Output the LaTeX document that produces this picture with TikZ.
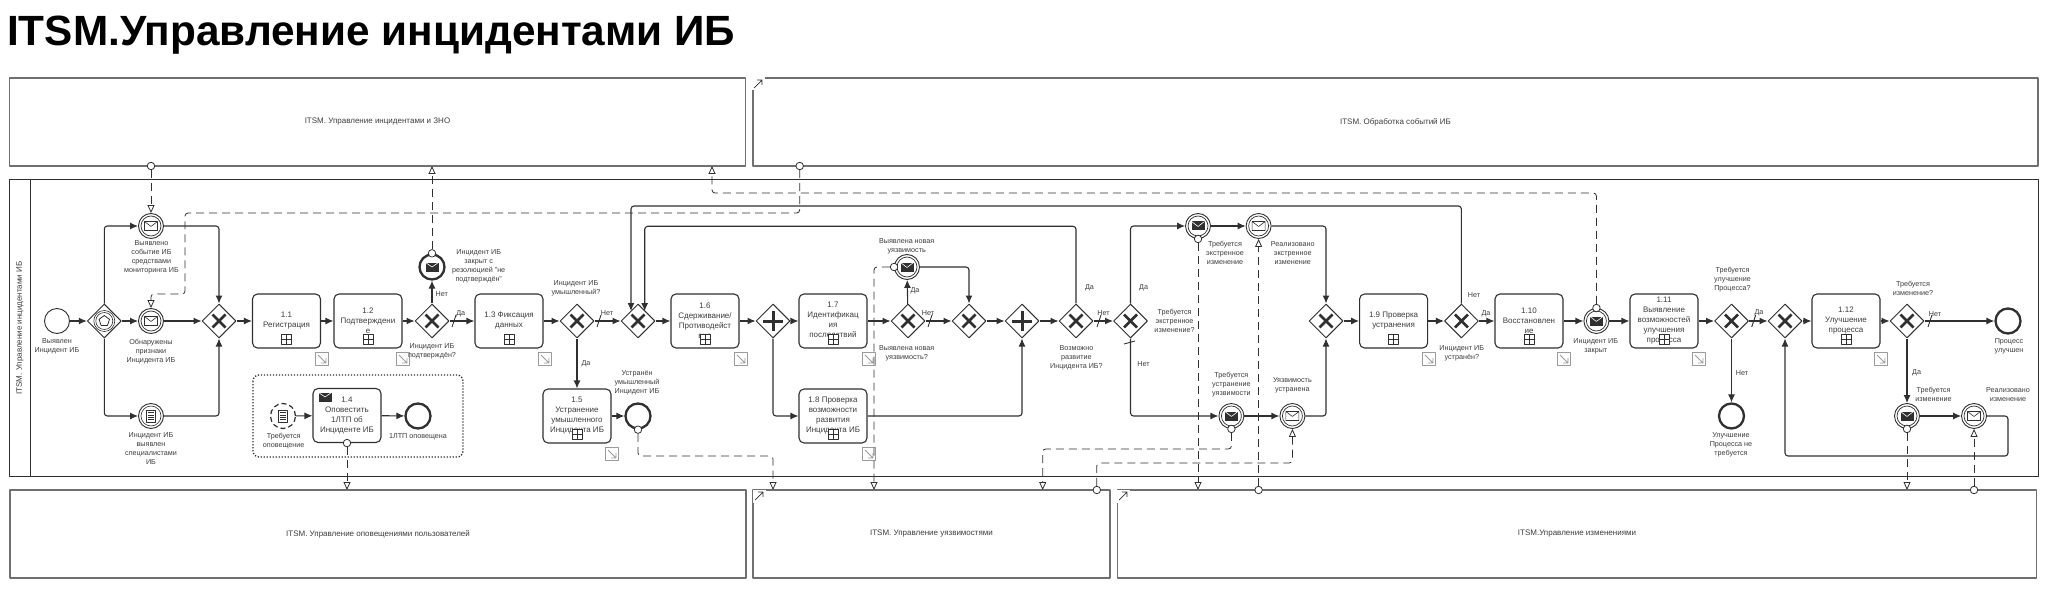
\documentclass[tikz,border=0pt]{standalone}
\usepackage{fontspec}
\setmainfont{Liberation Sans}
\usetikzlibrary{positioning,arrows.meta,shapes.geometric}
\definecolor{ln}{HTML}{303030}
\definecolor{txt}{HTML}{3C3C3C}
\definecolor{boxln}{HTML}{707070}

\begin{document}
\begin{tikzpicture}[x=1pt, y=-1pt, line join=round, draw=ln,
                    flow/.style={line width=1.1pt, rounded corners=3pt, -{Latex[length=8pt,width=7pt]}},
                    mflow/.style={line width=0.8pt, rounded corners=3pt, dash pattern=on 8pt off 5pt},
                    mtip/.style={mflow, -{Triangle[fill=white,length=8pt,width=7pt]}},
                    mdot/.style={circle, draw, fill=white, line width=0.8pt, minimum size=7.5pt, inner sep=0pt},
                    tick/.style={line width=0.9pt},
                    procbox/.style={rectangle, draw=boxln, line width=1.1pt, minimum height=88pt, inner sep=0pt,
                                    text=txt, font=\fontsize{8}{10}\selectfont},
                    task/.style={rectangle, draw, rounded corners=5pt, line width=1.1pt, minimum width=68pt,
                                 minimum height=54pt, inner sep=0pt, align=center, text=txt,
                                 font=\fontsize{8}{10}\selectfont},
                    plusbox/.style={rectangle, draw, fill=white, line width=0.7pt, minimum size=10pt, inner sep=0pt,
                                    path picture={\draw[line width=0.7pt] (path picture bounding box.north) -- (path picture bounding box.south)
                                                  (path picture bounding box.west) -- (path picture bounding box.east);}},
                    linkbox/.style={rectangle, draw=boxln!70, fill=white, line width=0.8pt, minimum size=13pt, inner sep=0pt,
                                    path picture={\draw[line width=0.8pt, shift={(path picture bounding box.center)}] (-4,-4) -- (4,4) (4,-1) -- (4,4) -- (-1,4);}},
                    uplink/.style={rectangle, fill=white, minimum size=13pt, inner sep=0pt,
                                   path picture={\draw[line width=0.7pt, shift={(path picture bounding box.center)}] (-4,4) -- (4,-4) (-1,-4) -- (4,-4) -- (4,1);}},
                    envblack/.style={rectangle, fill=ln, minimum width=13pt, minimum height=9pt, inner sep=0pt,
                                     path picture={\draw[white, line width=0.6pt] (path picture bounding box.north west) -- (path picture bounding box.center) -- (path picture bounding box.north east);}},
                    lab/.style={inner sep=0pt, align=center, text=txt, font=\fontsize{7.2}{9}\selectfont},
                    gw/.style={diamond, draw, fill=white, aspect=1, minimum size=34pt, inner sep=0pt, line width=1pt},
                    gwx/.style={gw, path picture={\draw[line width=2.7pt, shift={(path picture bounding box.center)}] (-6.5,-6.5) -- (6.5,6.5) (-6.5,6.5) -- (6.5,-6.5);}},
                    gwplus/.style={gw, path picture={\draw[line width=3pt, shift={(path picture bounding box.center)}] (-10,0) -- (10,0) (0,-10) -- (0,10);}},
                    gwevent/.style={gw, path picture={\begin{scope}[line width=0.6pt, shift={(path picture bounding box.center)}]
                                      \draw (0,0) circle (10.5); \draw (0,0) circle (8.5);
                                      \draw[line width=0.8pt] (0,-5.5) -- (5.2,-1.7) -- (3.2,4.4) -- (-3.2,4.4) -- (-5.2,-1.7) -- cycle;
                                    \end{scope}}},
                    ev/.style={circle, draw, fill=white, minimum size=25pt, inner sep=0pt, line width=0.9pt},
                    evend/.style={ev, line width=2.3pt},
                    evcatch/.style={ev, path picture={\begin{scope}[shift={(path picture bounding box.center)}]
                                      \draw[line width=0.7pt] (0,0) circle (10);
                                      \draw[line width=0.6pt] (-6.5,-4.5) rectangle (6.5,4.5) (-6.5,-4.5) -- (0,0.5) -- (6.5,-4.5);
                                    \end{scope}}},
                    evthrow/.style={ev, path picture={\begin{scope}[shift={(path picture bounding box.center)}]
                                      \draw[line width=0.7pt] (0,0) circle (10);
                                      \fill[ln] (-6.5,-4.5) rectangle (6.5,4.5);
                                      \draw[white, line width=0.6pt] (-6.5,-4.5) -- (0,0.5) -- (6.5,-4.5);
                                    \end{scope}}},
                    evlist/.style={ev, path picture={\begin{scope}[line width=0.6pt, shift={(path picture bounding box.center)}]
                                      \draw (0,0) circle (10);
                                      \draw (-4.5,-6) rectangle (4.5,6);
                                      \foreach \ly in {-3.6,-1.2,1.2,3.6} \draw (-3,\ly) -- (3,\ly);
                                    \end{scope}}},
                    evnote/.style={ev, line width=1.2pt, dash pattern=on 5pt off 3pt,
                                   path picture={\begin{scope}[solid, line width=0.6pt, shift={(path picture bounding box.center)}]
                                      \draw (-4.5,-6) rectangle (4.5,6);
                                      \foreach \ly in {-3.6,-1.2,1.2,3.6} \draw (-3,\ly) -- (3,\ly);
                                    \end{scope}}}]
  \useasboundingbox (0,0) rectangle (2048,596);
  \node[anchor=base west, inner sep=0pt, font=\fontsize{42.3}{42}\selectfont\bfseries, text=black] (title) at (7,46) {ITSM.Управление инцидентами ИБ};
  % boxes
  \node[procbox, minimum width=736pt] (pzno) at (377.5,122) {ITSM. Управление инцидентами и ЗНО};
  \node[procbox, minimum width=1285pt] (pevt) at (1395.5,122) {ITSM. Обработка событий ИБ};
  \node[procbox, minimum width=736pt] (pnotif) at (378,534) {ITSM. Управление оповещениями пользователей};
  \node[procbox, minimum width=357pt] (pvuln) at (931.5,534) {ITSM. Управление уязвимостями};
  \node[procbox, minimum width=919pt] (pchg) at (1577,534) {ITSM.Управление изменениями};
  \foreach \nm/\xx/\yy in {upa/758/84, upb/759/496, upc/1123/496} \node[uplink] (\nm) at (\xx,\yy) {};
  \draw[line width=0.9pt] (9,179) rectangle (2038,476.5);
  \draw[line width=0.9pt] (30,179) -- (30,476.5);
  \node[rotate=90, inner sep=0pt, text=txt, font=\fontsize{8}{10}\selectfont] (lane) at (20,328) {ITSM. Управление инцидентами ИБ};
  \draw[line width=1.3pt, dash pattern=on 1.3pt off 1.7pt, rounded corners=6pt] (253,375) rectangle (463,457);
  % tasks
  \foreach \nm/\xx/\yy/\tx in {t11/286.5/321/{1.1\\Регистрация}, t12/368/321/{1.2\\Подтверждени\\е},
                               t13/509/321/{1.3 Фиксация\\данных}, t14/347/415.5/{1.4\\Оповестить\\1ЛТП об\\Инциденте ИБ},
                               t15/577/416/{1.5\\Устранение\\умышленного\\Инцидента ИБ}, t16/705/321/{1.6\\Сдерживание/\\Противодейст\\вие},
                               t17/833/321/{1.7\\Идентификац\\ия\\последствий}, t18/833/416/{1.8 Проверка\\возможности\\развития\\Инцидента ИБ},
                               t19/1393.6/321/{1.9 Проверка\\устранения}, t110/1529/321/{1.10\\Восстановлен\\ие},
                               t111/1664/321/{1.11\\Выявление\\возможностей\\улучшения\\процесса}, t112/1846/321/{1.12\\Улучшение\\процесса}}
    \node[task] (\nm) at (\xx,\yy) {\tx};
  \foreach \nm in {t11,t12,t13,t15,t16,t17,t18,t19,t110,t111,t112}
    \node[plusbox, anchor=south, yshift=4pt] (\nm plus) at (\nm.south) {};
  \foreach \nm/\xx/\yy in {t11/322/359, t12/403/359, t13/545/359, t15/612/454, t16/741/359, t17/869/359,
                           t18/869/454, t19/1429/359, t110/1564/359, t111/1699/359, t112/1881/359}
    \node[linkbox] (\nm link) at (\xx,\yy) {};
  \node[envblack] (t14env) at (325,397) {};
  % gateways
  \node[gwevent] (gwev) at (104.3,321) {};
  \foreach \nm/\xx in {gwa/219, gwconf/432, gwint/577, gwmain/638, gwvul/908, gwvulb/969, gwdev/1076, gwem/1130.5,
                       gwjoin/1326, gwfix/1461.4, gwimp/1731.5, gwimpb/1785, gwch/1907}
    \node[gwx] (\nm) at (\xx,321) {};
  \foreach \nm/\xx in {gwpa/773, gwpb/1022} \node[gwplus] (\nm) at (\xx,321) {};
  % events
  \node[ev] (startev) at (57,321) {};
  \foreach \nm/\xx/\yy/\st in {msgmon/151/226/evcatch, msgsign/151/321/evcatch, listspec/151/416/evlist, notif/283/416/evnote,
                               endconf/432/267/evend, endlpt/418/416/evend, endint/638/416/evend, msgvul/907/267/evthrow,
                               msgem/1198/226/evthrow, msgemd/1258.6/226/evcatch, msgvf/1231.4/416/evthrow, msgvd/1292.4/416/evcatch,
                               msgcl/1596.4/321/evthrow, endimp/2008/321/evend, endno/1731.5/416/evend,
                               msgch/1907/416/evthrow, msgchd/1974/416/evcatch}
    \node[\st] (\nm) at (\xx,\yy) {};
  \node[envblack] (endenv) at (432,267) {};
  % labels
  \foreach \xx/\yy/\tx [count=\i] in {57/346.5/{Выявлен\\Инцидент ИБ}, 151.5/257/{Выявлено\\событие ИБ\\средствами\\мониторинга ИБ},
      151/351.7/{Обнаружены\\признаки\\Инцидента ИБ}, 151/448.7/{Инцидент ИБ\\выявлен\\специалистами\\ИБ},
      478.7/266.7/{Инцидент ИБ\\закрыт с\\резолюцией "не\\подтверждён"}, 432/351.7/{Инцидент ИБ\\подтверждён?},
      283.7/441/{Требуется\\оповещение}, 418/436.7/{1ЛТП оповещена}, 576/288/{Инцидент ИБ\\умышленный?},
      637/383/{Устранён\\умышленный\\Инцидент ИБ}, 906.7/246/{Выявлена новая\\уязвимость}, 906.7/353/{Выявлена новая\\уязвимость?},
      1076.4/357.7/{Возможно\\развитие\\Инцидента ИБ?}, 1174.6/320.7/{Требуется\\экстренное\\изменение?},
      1225/253/{Требуется\\экстренное\\изменение}, 1292.7/253/{Реализовано\\экстренное\\изменение},
      1231.4/385/{Требуется\\устранение\\уязвимости}, 1292.4/385/{Уязвимость\\устранена}, 1461.8/353/{Инцидент ИБ\\устранён?},
      1595.8/346.7/{Инцидент ИБ\\закрыт}, 1732.5/280/{Требуется\\улучшение\\Процесса?}, 1731/445/{Улучшение\\Процесса не\\требуется},
      1913/288/{Требуется\\изменение?}, 2009/346.7/{Процесс\\улучшен}, 1933.5/394.7/{Требуется\\изменение}, 2008/394.7/{Реализовано\\изменение},
      441.7/294/{Нет}, 460.7/314/{Да}, 607/313/{Нет}, 586/364/{Да}, 915/291/{Да}, 928/313/{Нет}, 1089.5/288/{Да}, 1143.6/288/{Да},
      1103.6/313/{Нет}, 1143.6/364/{Нет}, 1474/294.7/{Нет}, 1486/314/{Да}, 1759/313/{Да}, 1742/372.7/{Нет}, 1935/313.7/{Нет}, 1916.6/372.3/{Да}}
    \node[lab] (lab\i) at (\xx,\yy) {\tx};
  % sequence flows
  \foreach \a/\b in {startev/gwev, gwev/msgsign, msgsign/gwa, gwa/t11, t11/t12, t12/gwconf, gwconf/t13, gwconf/endconf,
                     t13/gwint, gwint/gwmain, gwint/t15, t15/endint, gwmain/t16, t16/gwpa, gwpa/t17, t17/gwvul, gwvul/msgvul,
                     gwvul/gwvulb, gwvulb/gwpb, gwpb/gwdev, gwdev/gwem, msgem/msgemd, msgvf/msgvd, gwjoin/t19, t19/gwfix,
                     gwfix/t110, t110/msgcl, msgcl/t111, t111/gwimp, gwimp/gwimpb, gwimpb/t112, t112/gwch, gwch/endimp,
                     gwimp/endno, gwch/msgch, msgch/msgchd, notif/t14, t14/endlpt}
    \draw[flow] (\a) -- (\b);
  \foreach \nm/\xx/\yy in {backa/644.7/226.3, inb/644.7/311, backc/631/206, ind/631/311, loopa/2008/456, loopb/1785/456} \coordinate (\nm) at (\xx,\yy);
  \draw[flow] (gwev) |- (msgmon);
  \draw[flow] (gwev) |- (listspec);
  \draw[flow] (msgmon) -| (gwa);
  \draw[flow] (listspec) -| (gwa);
  \draw[flow] (gwpa) |- (t18);
  \draw[flow] (t18) -| (gwpb);
  \draw[flow] (msgvul) -| (gwvulb);
  \draw[flow] (gwdev) |- (backa) -- (inb);
  \draw[flow] (gwfix) |- (backc) -- (ind);
  \draw[flow] (gwem) |- (msgem);
  \draw[flow] (gwem) |- (msgvf);
  \draw[flow] (msgemd) -| (gwjoin);
  \draw[flow] (msgvd) -| (gwjoin);
  \draw[flow] (msgchd) -| (loopa) -- (loopb) -- (gwimpb);
  \foreach \xx in {454,599,930,1099,1753.7,1930} \draw[tick] (\xx-2,327) -- (\xx+2,315);
  \draw[tick] (1124,344) -- (1135,341);
  % message flows
  \foreach \nm/\xx/\yy in {dotb/151/166, dotc/799.7/166, dotd/1096.8/490, dote/1258.6/490, dotf/1974/490} \node[mdot] (\nm) at (\xx,\yy) {};
  \foreach \nm/\ev/\an in {dotg/endconf/north, doth/t14/south, doti/endint/south, dotj/msgvul/west, dotk/msgvf/south,
                           dotl/msgem/south, dotm/msgcl/north, dotn/msgch/south}
    \node[mdot] (\nm) at (\ev.\an) {};
  \foreach \nm/\xx/\yy in {tipa/432/166, tipb/712/166, tipc/347/490, tipd/773/490, tipe/874/490, tipf/1042.7/490, tipg/1198/490, tiph/1907/490,
                           waya/185/213, wayb/151/294, wayc/712/193, wayd/773/456, waye/1042.7/449, wayf/1292.4/463}
    \coordinate (\nm) at (\xx,\yy);
  \draw[mtip] (dotb) -- (msgmon);
  \draw[mtip] (dotc) |- (waya) |- (wayb) -- (msgsign);
  \draw[mtip] (dotg) -- (tipa);
  \draw[mtip] (dotm) |- (wayc) -- (tipb);
  \draw[mtip] (doth) -- (tipc);
  \draw[mtip] (doti) |- (wayd) -- (tipd);
  \draw[mtip] (dotj) -| (tipe);
  \draw[mtip] (dotk) |- (waye) -- (tipf);
  \draw[mtip] (dotd) |- (wayf) -- (msgvd);
  \draw[mtip] (dotl) -- (tipg);
  \draw[mtip] (dote) -- (msgemd);
  \draw[mtip] (dotn) -- (tiph);
  \draw[mtip] (dotf) -- (msgchd);
\end{tikzpicture}
\end{document}
